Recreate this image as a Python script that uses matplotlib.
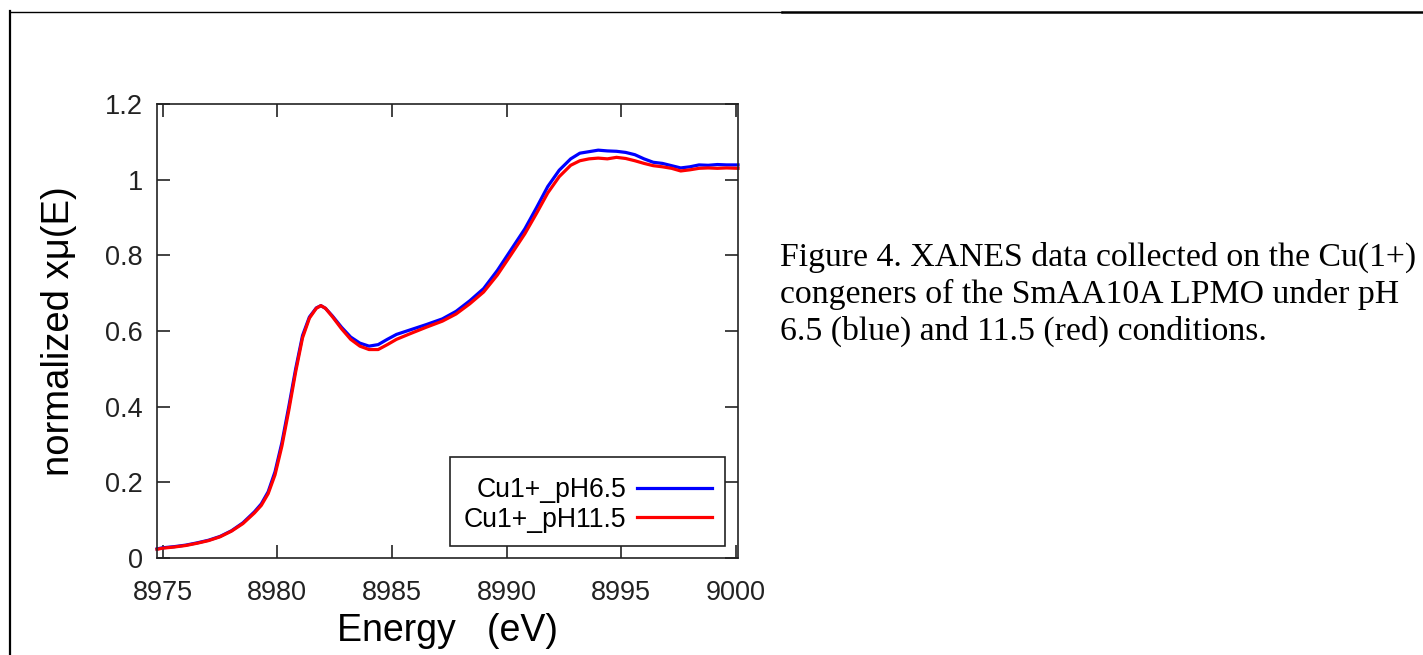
import numpy as np
import matplotlib
matplotlib.use("Agg")
import matplotlib.pyplot as plt
from matplotlib.lines import Line2D
from matplotlib.ticker import FormatStrFormatter

# Данные (XANES, Cu K-edge)
energy = [8974.75, 8975.0, 8975.5, 8976.0, 8976.5, 8977.0, 8977.5, 8978.0,
          8978.5, 8979.0, 8979.3, 8979.6, 8979.9, 8980.2, 8980.5, 8980.8,
          8981.1, 8981.4, 8981.7, 8981.9, 8982.1, 8982.4, 8982.8, 8983.2,
          8983.6, 8984.0, 8984.4, 8984.8, 8985.2, 8985.8, 8986.5, 8987.2,
          8987.8, 8988.4, 8989.0, 8989.6, 8990.2, 8990.8, 8991.3, 8991.8,
          8992.3, 8992.8, 8993.2, 8993.6, 8994.0, 8994.4, 8994.8, 8995.2,
          8995.6, 8996.0, 8996.4, 8996.8, 8997.2, 8997.6, 8998.0, 8998.4,
          8998.8, 8999.2, 8999.6, 9000.1]

mu_ph65 = [0.024, 0.027, 0.030, 0.034, 0.040, 0.047, 0.057, 0.072,
           0.093, 0.122, 0.143, 0.175, 0.228, 0.305, 0.400, 0.500,
           0.588, 0.637, 0.661, 0.667, 0.660, 0.640, 0.610, 0.584,
           0.568, 0.560, 0.564, 0.578, 0.591, 0.603, 0.617, 0.632,
           0.652, 0.680, 0.712, 0.760, 0.815, 0.870, 0.925, 0.982,
           1.025, 1.055, 1.070, 1.074, 1.078, 1.076, 1.075, 1.072,
           1.066, 1.055, 1.046, 1.043, 1.037, 1.031, 1.034, 1.039,
           1.038, 1.040, 1.039, 1.039]

mu_ph115 = [0.023, 0.026, 0.029, 0.033, 0.039, 0.046, 0.056, 0.071,
            0.091, 0.119, 0.139, 0.170, 0.220, 0.296, 0.390, 0.492,
            0.582, 0.634, 0.660, 0.667, 0.660, 0.638, 0.606, 0.578,
            0.560, 0.551, 0.551, 0.564, 0.578, 0.593, 0.610, 0.626,
            0.645, 0.672, 0.703, 0.748, 0.802, 0.857, 0.910, 0.965,
            1.008, 1.038, 1.050, 1.055, 1.057, 1.055, 1.059, 1.056,
            1.050, 1.043, 1.037, 1.034, 1.030, 1.023, 1.026, 1.030,
            1.031, 1.030, 1.031, 1.030]

labels = ["Cu1+_pH6.5", "Cu1+_pH11.5"]
x_ticks = [8975, 8980, 8985, 8990, 8995, 9000]
y_ticks = [0, 0.2, 0.4, 0.6, 0.8, 1.0, 1.2]

caption = ["Figure 4. XANES data collected on the Cu(1+)",
           "congeners of the SmAA10A LPMO under pH",
           "6.5 (blue) and 11.5 (red) conditions."]

W, H = 1423, 655
plt.rcParams['font.family'] = ['Liberation Sans', 'DejaVu Sans']

fig = plt.figure(figsize=(W / 100, H / 100), dpi=100)
ax = fig.add_axes([157 / W, 1 - 558 / H, (738 - 157) / W, (558 - 104) / H])

ax.plot(energy, mu_ph65, color="#0000ff", lw=2.3, label=labels[0], clip_on=False)
ax.plot(energy, mu_ph115, color="#ff0000", lw=2.3, label=labels[1], clip_on=False)

ax.set_xlim(8974.75, 9000.1)
ax.set_ylim(0, 1.2)
ax.set_xticks(x_ticks)
ax.set_yticks(y_ticks)
ax.yaxis.set_major_formatter(FormatStrFormatter('%g'))
ax.tick_params(direction='in', top=True, right=True, length=9.5, width=1.2,
               labelsize=19.5, color='#222222', labelcolor='#222222')
ax.tick_params(axis='x', pad=16)
ax.tick_params(axis='y', pad=10)
for s in ax.spines.values():
    s.set_linewidth(1.2)
    s.set_color('#222222')

ax.set_xlabel("Energy   (eV)", fontsize=27, labelpad=5)
ax.set_ylabel("normalized xμ(E)", fontsize=27.5, labelpad=20)

# пустой маленький заголовок даёт лишний отступ сверху, как в gnuplot
leg = ax.legend(loc='lower right', bbox_to_anchor=(0.9776, 0.0264),
                borderaxespad=0, markerfirst=False, fontsize=19.2,
                handlelength=2.8, handletextpad=0.4, labelspacing=0.12,
                fancybox=False, framealpha=1, edgecolor='#222222',
                borderpad=0.5, title=" ", title_fontsize=3)
leg.get_frame().set_linewidth(1.2)

# Подпись справа
for i, line in enumerate(caption):
    fig.text(780 / W, 1 - (266 + 37 * i) / H, line, fontsize=24.3,
             family='Liberation Serif', ha='left', va='baseline')

# Рамка страницы
fig.add_artist(Line2D([10 / W, 782 / W], [1 - 11.5 / H, 1 - 11.5 / H],
                      color='black', lw=1.0, transform=fig.transFigure))
fig.add_artist(Line2D([782 / W, 1.0], [1 - 12 / H, 1 - 12 / H],
                      color='black', lw=1.8, transform=fig.transFigure))
fig.add_artist(Line2D([10 / W, 10 / W], [1 - 11 / H, 0.0],
                      color='black', lw=1.6, transform=fig.transFigure))

fig.savefig("out.png", dpi=100)
